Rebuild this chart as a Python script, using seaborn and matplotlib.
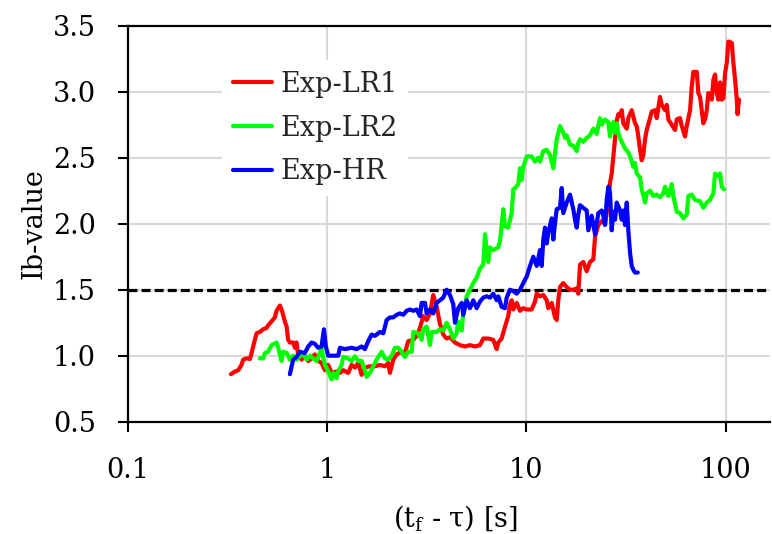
import matplotlib
matplotlib.use("Agg")
import matplotlib.pyplot as plt
import pandas as pd
import seaborn as sns
from matplotlib.ticker import FixedLocator, FixedFormatter, NullLocator

# ---- data -----------------------------------------------------------------
series_names = ["Exp-LR1", "Exp-LR2", "Exp-HR"]
series_colors = ["#ff0000", "#00ff00", "#0000ff"]

# Exp-LR1: time to failure (s) and Ib-value
lr1_t = [0.330, 0.346, 0.359, 0.373, 0.380, 0.395, 0.411, 0.419, 0.435, 0.444,
         0.461, 0.479, 0.498, 0.507, 0.528, 0.548, 0.559, 0.581, 0.592, 0.603,
         0.615, 0.628, 0.639, 0.652, 0.677, 0.691, 0.704, 0.718, 0.746, 0.775,
         0.806, 0.838, 0.870, 0.904, 0.940, 0.977, 1.015, 1.056, 1.119, 1.162,
         1.207, 1.279, 1.330, 1.382, 1.436, 1.493, 1.551, 1.644, 1.741, 1.845,
         1.955, 2.030, 2.071, 2.151, 2.237, 2.370, 2.463, 2.558, 2.710, 2.819,
         2.928, 3.042, 3.164, 3.287, 3.415, 3.552, 3.690, 3.833, 3.987, 4.142,
         4.388, 4.649, 4.925, 5.218, 5.528, 5.857, 6.085, 6.446, 6.830, 7.104,
         7.236, 7.526, 7.819, 8.122, 8.283, 8.447, 8.605, 8.950, 9.298, 9.659,
         10.05, 10.64, 11.06, 11.28, 11.72, 12.17, 12.66, 12.89, 13.41, 13.93,
         14.21, 14.47, 14.76, 15.33, 15.95, 16.57, 17.21, 17.90, 18.23, 18.60,
         19.32, 20.09, 20.87, 21.69, 22.12, 22.97, 23.90, 24.83, 25.79, 26.30,
         26.82, 27.32, 27.86, 28.42, 28.95, 29.52, 30.11, 30.67, 31.90, 32.49,
         33.79, 35.11, 35.80, 36.47, 37.20, 37.93, 38.64, 39.41, 40.19, 41.75,
         42.58, 44.23, 45.11, 46.86, 47.79, 49.65, 50.64, 51.58, 53.64, 55.73,
         56.84, 59.05, 60.21, 62.56, 63.80, 66.28, 67.59, 68.85, 71.61, 72.94,
         74.39, 75.87, 77.29, 78.82, 80.38, 81.88, 85.16, 86.75, 88.47, 90.23,
         91.90, 93.73, 95.59, 97.38, 99.31, 101.3, 103.2, 107.3, 109.3, 111.5,
         113.7, 114.7, 116.7]
lr1_b = [0.86, 0.88, 0.89, 0.93, 0.97, 0.98, 0.975, 1.02, 1.12, 1.17,
         1.18, 1.20, 1.21, 1.23, 1.26, 1.29, 1.34, 1.38, 1.35, 1.31,
         1.26, 1.22, 1.12, 1.10, 1.10, 1.06, 1.10, 1.00, 0.97, 0.995,
         0.96, 0.98, 1.01, 0.96, 0.945, 0.89, 0.93, 0.87, 0.88, 0.87,
         0.89, 0.87, 0.93, 0.91, 0.945, 0.855, 0.91, 0.92, 0.92, 0.93,
         0.92, 0.945, 0.87, 0.97, 1.01, 1.03, 1.02, 1.11, 1.12, 1.15,
         1.21, 1.30, 1.27, 1.32, 1.46, 1.37, 1.24, 1.16, 1.13, 1.14,
         1.10, 1.08, 1.07, 1.08, 1.07, 1.08, 1.13, 1.13, 1.12, 1.05,
         1.10, 1.13, 1.22, 1.30, 1.39, 1.42, 1.35, 1.40, 1.34, 1.36,
         1.35, 1.35, 1.41, 1.47, 1.45, 1.46, 1.42, 1.36, 1.40, 1.29,
         1.27, 1.42, 1.52, 1.55, 1.52, 1.50, 1.50, 1.51, 1.47, 1.69,
         1.71, 1.64, 1.71, 1.73, 1.90, 1.99, 2.02, 2.00, 2.16, 2.31,
         2.38, 2.51, 2.64, 2.78, 2.83, 2.82, 2.86, 2.76, 2.72, 2.80,
         2.86, 2.76, 2.74, 2.66, 2.56, 2.48, 2.52, 2.64, 2.71, 2.80,
         2.85, 2.86, 2.80, 2.96, 2.90, 2.86, 2.90, 2.79, 2.75, 2.71,
         2.79, 2.80, 2.74, 2.66, 2.74, 2.86, 3.04, 3.15, 3.15, 2.99,
         2.96, 2.86, 2.76, 2.79, 2.86, 2.99, 2.94, 3.09, 3.13, 2.99,
         2.94, 3.07, 2.94, 2.95, 3.14, 3.22, 3.38, 3.37, 3.22, 3.09,
         2.94, 2.83, 2.94]

# Exp-LR2
lr2_t = [0.461, 0.479, 0.489, 0.507, 0.528, 0.559, 0.570, 0.581, 0.592, 0.603,
         0.628, 0.639, 0.652, 0.677, 0.704, 0.732, 0.760, 0.791, 0.822, 0.853,
         0.888, 0.922, 0.940, 0.958, 0.977, 1.015, 1.056, 1.076, 1.119, 1.139,
         1.185, 1.207, 1.279, 1.330, 1.382, 1.436, 1.493, 1.551, 1.582, 1.644,
         1.707, 1.776, 1.881, 1.955, 2.030, 2.112, 2.194, 2.279, 2.370, 2.463,
         2.558, 2.661, 2.710, 2.871, 2.986, 3.042, 3.164, 3.287, 3.352, 3.552,
         3.690, 3.833, 3.987, 4.142, 4.303, 4.475, 4.558, 4.741, 4.830, 5.023,
         5.218, 5.421, 5.638, 5.857, 6.085, 6.206, 6.329, 6.446, 6.574, 6.830,
         7.236, 7.380, 7.667, 7.819, 8.122, 8.447, 8.605, 8.776, 9.117, 9.298,
         9.482, 9.659, 9.851, 10.05, 10.64, 11.06, 11.49, 11.72, 12.17, 12.66,
         13.15, 13.66, 14.21, 14.76, 15.33, 15.64, 15.95, 16.57, 17.21, 17.90,
         18.23, 18.60, 19.32, 20.09, 20.87, 21.69, 22.55, 22.97, 23.43, 23.90,
         24.83, 25.79, 26.30, 26.82, 27.32, 27.86, 28.42, 28.95, 30.11, 31.28,
         32.49, 33.14, 34.43, 35.11, 35.80, 37.20, 37.93, 39.41, 40.19, 41.75,
         43.37, 45.11, 46.86, 48.69, 49.65, 51.58, 53.64, 54.65, 56.84, 59.05,
         61.34, 63.80, 64.99, 67.59, 70.22, 74.39, 77.29, 80.38, 83.50, 86.75,
         88.47, 91.90, 93.73, 95.59, 98.16]
lr2_b = [0.98, 0.98, 1.02, 1.03, 1.08, 1.10, 1.06, 1.01, 0.96, 1.03,
         1.02, 1.00, 0.97, 1.00, 0.97, 1.00, 1.01, 0.97, 1.00, 0.98,
         0.96, 1.02, 1.06, 0.99, 0.93, 0.88, 0.82, 0.87, 0.83, 0.88,
         0.93, 0.99, 0.98, 0.96, 0.995, 0.96, 0.96, 0.89, 0.84, 0.87,
         0.92, 0.97, 1.03, 0.98, 0.97, 1.00, 1.06, 1.06, 1.03, 0.99,
         1.03, 1.03, 1.18, 1.17, 1.12, 1.20, 1.22, 1.08, 1.18, 1.18,
         1.20, 1.19, 1.25, 1.20, 1.13, 1.17, 1.26, 1.19, 1.32, 1.45,
         1.50, 1.55, 1.59, 1.66, 1.69, 1.92, 1.80, 1.71, 1.82, 1.80,
         1.82, 1.87, 2.11, 1.98, 1.97, 2.08, 2.26, 2.27, 2.30, 2.42,
         2.33, 2.43, 2.47, 2.51, 2.51, 2.47, 2.50, 2.47, 2.55, 2.56,
         2.52, 2.42, 2.64, 2.74, 2.69, 2.65, 2.67, 2.60, 2.59, 2.55,
         2.61, 2.64, 2.62, 2.65, 2.67, 2.72, 2.68, 2.74, 2.80, 2.75,
         2.79, 2.77, 2.66, 2.75, 2.77, 2.69, 2.76, 2.68, 2.62, 2.57,
         2.54, 2.51, 2.43, 2.46, 2.38, 2.35, 2.26, 2.16, 2.23, 2.25,
         2.21, 2.22, 2.20, 2.23, 2.28, 2.21, 2.30, 2.21, 2.09, 2.08,
         2.04, 2.07, 2.21, 2.22, 2.18, 2.17, 2.12, 2.16, 2.18, 2.23,
         2.38, 2.36, 2.38, 2.28, 2.26]

# Exp-HR
hr_t = [0.652, 0.677, 0.704, 0.732, 0.775, 0.806, 0.838, 0.870, 0.904, 0.940,
        0.966, 0.988, 1.015, 1.076, 1.139, 1.162, 1.231, 1.330, 1.409, 1.493,
        1.551, 1.611, 1.676, 1.741, 1.845, 1.917, 1.993, 2.071, 2.151, 2.237,
        2.324, 2.415, 2.511, 2.609, 2.710, 2.819, 2.928, 2.986, 3.103, 3.164,
        3.287, 3.415, 3.552, 3.690, 3.833, 3.987, 4.142, 4.303, 4.388, 4.558,
        4.741, 4.830, 5.023, 5.218, 5.421, 5.638, 5.857, 6.085, 6.329, 6.574,
        6.830, 7.104, 7.236, 7.526, 7.819, 7.974, 8.283, 8.605, 8.950, 9.298,
        9.659, 10.05, 10.44, 10.84, 11.28, 11.72, 11.95, 12.17, 12.41, 12.66,
        12.89, 13.41, 13.66, 13.93, 14.21, 14.76, 15.05, 15.33, 15.95, 16.57,
        17.21, 17.55, 17.90, 18.23, 18.60, 19.32, 20.09, 20.47, 21.29, 22.12,
        22.97, 23.90, 24.34, 24.83, 25.32, 25.79, 26.30, 26.82, 27.32, 27.86,
        28.42, 29.52, 30.11, 30.67, 31.28, 31.90, 32.49, 33.14, 33.79, 34.43,
        35.11, 36.22]
hr_b = [0.86, 0.97, 0.99, 1.03, 1.02, 1.07, 1.10, 1.09, 1.06, 1.07,
        1.20, 1.07, 1.00, 1.00, 1.00, 1.06, 1.05, 1.06, 1.05, 1.07,
        1.05, 1.11, 1.16, 1.15, 1.18, 1.17, 1.27, 1.29, 1.29, 1.31,
        1.32, 1.31, 1.34, 1.35, 1.34, 1.35, 1.30, 1.40, 1.40, 1.32,
        1.35, 1.32, 1.40, 1.42, 1.44, 1.50, 1.46, 1.39, 1.25, 1.36,
        1.40, 1.31, 1.42, 1.36, 1.42, 1.36, 1.41, 1.44, 1.45, 1.44,
        1.47, 1.42, 1.45, 1.37, 1.36, 1.44, 1.50, 1.49, 1.47, 1.50,
        1.55, 1.60, 1.68, 1.75, 1.68, 1.80, 1.68, 1.88, 1.97, 1.85,
        1.93, 2.04, 1.88, 2.00, 2.11, 2.12, 2.27, 2.08, 2.16, 2.22,
        2.11, 2.03, 1.97, 2.07, 2.14, 2.12, 2.10, 1.95, 2.06, 1.92,
        2.08, 2.10, 2.06, 1.99, 2.18, 2.28, 2.23, 1.95, 2.09, 2.03,
        2.16, 2.10, 2.03, 2.10, 1.99, 2.16, 1.95, 1.78, 1.68, 1.65,
        1.63, 1.63]

threshold = 1.5
x_ticks = [0.1, 1, 10, 100]
x_tick_labels = ["0.1", "1", "10", "100"]
y_ticks = [0.5, 1.0, 1.5, 2.0, 2.5, 3.0, 3.5]
y_tick_labels = ["0.5", "1.0", "1.5", "2.0", "2.5", "3.0", "3.5"]

# ---- figure ---------------------------------------------------------------
sns.set_theme(style="white")
plt.rcParams["font.family"] = ["DejaVu Serif"]
plt.rcParams["mathtext.fontset"] = "dejavuserif"

FS = 19.5
LW = 3.0
fig = plt.figure(figsize=(7.72, 5.34), dpi=100)
ax = fig.add_axes([0.1652, 0.2103, 0.8323, 0.7416])

frames = [
    pd.DataFrame({"t": t, "b": b, "series": name})
    for name, t, b in zip(series_names, [lr1_t, lr2_t, hr_t], [lr1_b, lr2_b, hr_b])
]
df = pd.concat(frames, ignore_index=True)

sns.lineplot(data=df, x="t", y="b", hue="series", hue_order=series_names,
             palette=series_colors, estimator=None, sort=False,
             linewidth=LW, ax=ax, zorder=3)

ax.set_xscale("log")
ax.set_xlim(0.1, 167)
ax.set_ylim(0.5, 3.5)

# threshold line
ax.axhline(threshold, color="black", lw=2.3, ls=(0, (2.8, 1.3)), zorder=2.5)

# ticks and grid
ax.xaxis.set_major_locator(FixedLocator(x_ticks))
ax.xaxis.set_major_formatter(FixedFormatter(x_tick_labels))
ax.xaxis.set_minor_locator(NullLocator())
ax.yaxis.set_major_locator(FixedLocator(y_ticks))
ax.yaxis.set_major_formatter(FixedFormatter(y_tick_labels))
ax.tick_params(axis="both", which="major", bottom=True, left=True,
               direction="out", length=7.2, width=1.5, color="black",
               labelsize=FS, labelcolor="black")
ax.tick_params(axis="y", pad=15.5)
ax.tick_params(axis="x", pad=18)
ax.grid(True, which="major", color="#d9d9d9", lw=1.5)
ax.set_axisbelow(True)

for side in ("left", "bottom", "top"):
    ax.spines[side].set_visible(True)
    ax.spines[side].set_color("black")
    ax.spines[side].set_linewidth(1.6)
ax.spines["right"].set_visible(False)

# axis titles
ax.set_ylabel("Ib-value", fontsize=FS, color="black")
ax.yaxis.set_label_coords(-0.125, 0.5)
ax.set_xlabel(r"(t$_{\mathrm{f}}$ - τ) [s]", fontsize=FS, color="black")
ax.xaxis.set_label_coords(0.51, -0.205)

# legend
handles, labels = ax.get_legend_handles_labels()
leg = ax.legend(handles, labels, loc="upper left",
                bbox_to_anchor=(222 / 772, 1 - 60 / 534),
                bbox_transform=fig.transFigure, frameon=True, fancybox=False,
                edgecolor="none", facecolor="white", framealpha=1,
                fontsize=FS, handlelength=1.45, handletextpad=0.3,
                labelspacing=0.62, borderpad=0.4, borderaxespad=0, title=None)
for line in leg.get_lines():
    line.set_linewidth(LW)

fig.savefig("out.png", dpi=100)
